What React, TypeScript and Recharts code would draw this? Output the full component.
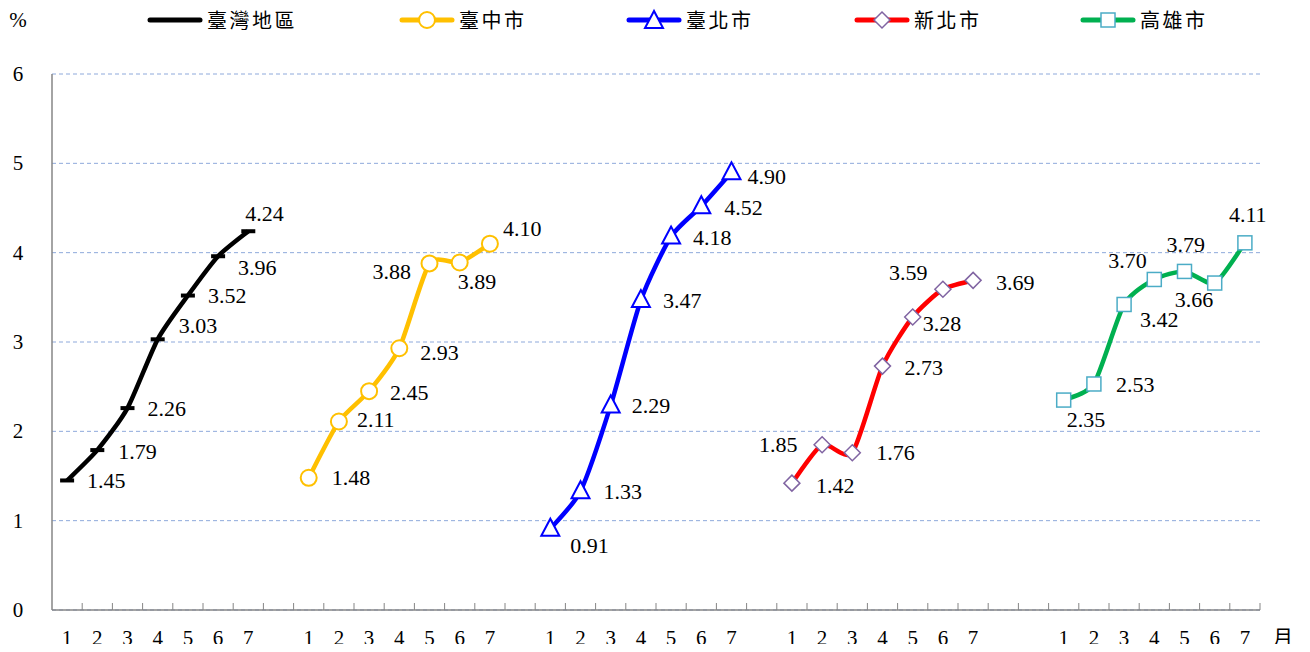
import { LineChart, Line, XAxis, YAxis, CartesianGrid } from 'recharts'

// monthly values, % (Jan..Jul)
const months = [1, 2, 3, 4, 5, 6, 7]
const taiwan = [1.45, 1.79, 2.26, 3.03, 3.52, 3.96, 4.24]
const taichung = [1.48, 2.11, 2.45, 2.93, 3.88, 3.89, 4.10]
const taipei = [0.91, 1.33, 2.29, 3.47, 4.18, 4.52, 4.90]
const newTaipei = [1.42, 1.85, 1.76, 2.73, 3.28, 3.59, 3.69]
const kaohsiung = [2.35, 2.53, 3.42, 3.70, 3.79, 3.66, 4.11]
const yTicks = [0, 1, 2, 3, 4, 5, 6]

// category slot where each group starts (empty slots separate groups)
const groupStart = { tw: 0, tc: 8, tp: 16, nt: 24, ks: 33 }
const SLOTS = 40

// label offsets [dx of text left edge, dy of text centre] per month
const twOff = [[20, 1], [21, 2], [20, 1], [21, -13], [20, 0], [20, 12], [-3, -17]]
const tcOff = [[23, 0], [18, -2], [21, 2], [21, 5], [-57, 9], [-2, 20], [13, -15]]
const tpOff = [[20, 17], [23, 1], [21, 1], [22, 1], [22, 1], [23, 2], [16, 5]]
const ntOff = [[24, 3], [-63, 0], [24, 0], [22, 2], [10, 7], [-54, -16], [23, 3]]
const ksOff = [[3, 20], [22, 1], [16, 16], [-46, -18], [-18, -26], [-40, 17], [-16, -28]]

const SERIF = "'Liberation Serif', 'DejaVu Serif', serif"
const CJK = "'Noto Sans CJK TC', sans-serif"

const W = 1310, H = 652
const LEFT = 52, RIGHT = 1260, TOP = 74, BOTTOM = 610
const BW = (RIGHT - LEFT) / SLOTS

const data = Array.from({ length: SLOTS }, (_, i) => {
  const row: Record<string, any> = { key: 'c' + i, month: '' }
  const fill = (k: keyof typeof groupStart, vals: number[]) => {
    const j = i - groupStart[k]
    if (j >= 0 && j < 7) { row[k] = vals[j]; row.month = months[j] } else row[k] = null
  }
  fill('tw', taiwan); fill('tc', taichung); fill('tp', taipei); fill('nt', newTaipei); fill('ks', kaohsiung)
  return row
})

// Excel-like smoothing (light cardinal spline through the points)
const smooth = (ctx: any) => {
  let pts: number[][] = []
  const k = 1 / 9
  return {
    areaStart() {}, areaEnd() {},
    lineStart() { pts = [] },
    point(x: number, y: number) { pts.push([x, y]) },
    lineEnd() {
      if (!pts.length) return
      ctx.moveTo(pts[0][0], pts[0][1])
      for (let i = 0; i < pts.length - 1; i++) {
        const p0 = pts[i - 1] || pts[i], p1 = pts[i], p2 = pts[i + 1], p3 = pts[i + 2] || pts[i + 1]
        ctx.bezierCurveTo(
          p1[0] + (p2[0] - p0[0]) * k, p1[1] + (p2[1] - p0[1]) * k,
          p2[0] - (p3[0] - p1[0]) * k, p2[1] - (p3[1] - p1[1]) * k,
          p2[0], p2[1])
      }
    },
  }
}

const mkLabel = (k: keyof typeof groupStart, off: number[][]) => (p: any) => {
  if (p.value == null) return null
  const o = off[p.index - groupStart[k]]
  if (!o) return null
  return (
    <text key={k + p.index} x={p.x + o[0]} y={p.y + o[1] + 7}
      style={{ fontSize: 22, fontFamily: SERIF }} fill="#000">{Number(p.value).toFixed(2)}</text>
  )
}

const DashDot = (p: any) => p.cy == null ? null :
  <rect key={p.index} x={p.cx - 7} y={p.cy - 2} width={14} height={4} fill="#000" />
const CircleDot = (p: any) => p.cy == null ? null :
  <circle key={p.index} cx={p.cx} cy={p.cy} r={8} fill="#fff" stroke="#FFC000" strokeWidth={2} />
const TriDot = (p: any) => p.cy == null ? null :
  <polygon key={p.index} points={`${p.cx},${p.cy - 10} ${p.cx - 9},${p.cy + 7} ${p.cx + 9},${p.cy + 7}`}
    fill="#fff" stroke="#0000FF" strokeWidth={2} />
const DiaDot = (p: any) => p.cy == null ? null :
  <polygon key={p.index} points={`${p.cx},${p.cy - 8} ${p.cx + 8},${p.cy} ${p.cx},${p.cy + 8} ${p.cx - 8},${p.cy}`}
    fill="#fff" stroke="#8064A2" strokeWidth={1.5} />
const SqDot = (p: any) => p.cy == null ? null :
  <rect key={p.index} x={p.cx - 7} y={p.cy - 7} width={14} height={14}
    fill="#fff" stroke="#4BACC6" strokeWidth={1.5} />

const XTick = (p: any) => {
  const i = p.index ?? p.payload?.index ?? 0
  return (
    <g>
      <line x1={p.x + BW / 2} x2={p.x + BW / 2} y1={BOTTOM - 7} y2={BOTTOM} stroke="#868686" />
      <text x={p.x} y={645} textAnchor="middle" style={{ fontSize: 21, fontFamily: SERIF }} fill="#000">
        {data[i]?.month}
      </text>
    </g>
  )
}

const YTick = (p: any) => (
  <text x={18} y={p.y + 7} textAnchor="middle" style={{ fontSize: 21, fontFamily: SERIF }} fill="#000">
    {p.payload.value}
  </text>
)

const legendItems = [
  { name: '臺灣地區', color: '#000', x: 150, mark: 'none' },
  { name: '臺中市', color: '#FFC000', x: 402, mark: 'circle' },
  { name: '臺北市', color: '#0000FF', x: 629, mark: 'tri' },
  { name: '新北市', color: '#FF0000', x: 857, mark: 'dia' },
  { name: '高雄市', color: '#00B050', x: 1083, mark: 'sq' },
]

const LegendMark = ({ mark, cx, cy }: { mark: string; cx: number; cy: number }) => {
  if (mark === 'circle') return <CircleDot cx={cx} cy={cy} index={0} />
  if (mark === 'tri') return <TriDot cx={cx} cy={cy + 1} index={0} />
  if (mark === 'dia') return <DiaDot cx={cx} cy={cy} index={0} />
  if (mark === 'sq') return <SqDot cx={cx} cy={cy} index={0} />
  return null
}

export default function App() {
  return (
    <div style={{ margin: -8, position: 'relative', width: W, height: H, background: '#fff' }}>
      <LineChart width={W} height={H} data={data}
        margin={{ top: TOP, right: W - RIGHT, bottom: H - BOTTOM - 30, left: LEFT - 40 }}>
        <CartesianGrid vertical={false} stroke="#8EA9DB" strokeDasharray="4 3" />
        <XAxis dataKey="key" interval={0} tickLine={false} height={30}
          padding={{ left: BW / 2, right: BW / 2 }}
          axisLine={{ stroke: '#868686', strokeWidth: 1.5 }} tick={<XTick />} />
        <YAxis domain={[0, 6]} ticks={yTicks} width={40} tickLine={false}
          axisLine={{ stroke: '#868686', strokeWidth: 1.5 }} tick={<YTick />} />
        <Line dataKey="tw" type={smooth as any} stroke="#000" strokeWidth={4.5} dot={DashDot}
          label={mkLabel('tw', twOff)} isAnimationActive={false} connectNulls={false} />
        <Line dataKey="tc" type={smooth as any} stroke="#FFC000" strokeWidth={4.5} dot={CircleDot}
          label={mkLabel('tc', tcOff)} isAnimationActive={false} connectNulls={false} />
        <Line dataKey="tp" type={smooth as any} stroke="#0000FF" strokeWidth={4.5} dot={TriDot}
          label={mkLabel('tp', tpOff)} isAnimationActive={false} connectNulls={false} />
        <Line dataKey="nt" type={smooth as any} stroke="#FF0000" strokeWidth={4.5} dot={DiaDot}
          label={mkLabel('nt', ntOff)} isAnimationActive={false} connectNulls={false} />
        <Line dataKey="ks" type={smooth as any} stroke="#00B050" strokeWidth={4.5} dot={SqDot}
          label={mkLabel('ks', ksOff)} isAnimationActive={false} connectNulls={false} />
      </LineChart>
      <svg width={W} height={H} style={{ position: 'absolute', left: 0, top: 0, pointerEvents: 'none' }}>
        <text x={18} y={27} textAnchor="middle" style={{ fontSize: 21, fontFamily: SERIF }}>%</text>
        {legendItems.map(it => (
          <g key={it.name}>
            <line x1={it.x} x2={it.x + 50} y1={20} y2={20} stroke={it.color} strokeWidth={5} strokeLinecap="round" />
            <LegendMark mark={it.mark} cx={it.x + 25} cy={20} />
            <text x={it.x + 57} y={28} letterSpacing={2.5} style={{ fontSize: 20, fontFamily: CJK }} fill="#000">{it.name}</text>
          </g>
        ))}
        <text x={1283} y={645} textAnchor="middle" style={{ fontSize: 20, fontFamily: CJK }}>月</text>
      </svg>
    </div>
  )
}
